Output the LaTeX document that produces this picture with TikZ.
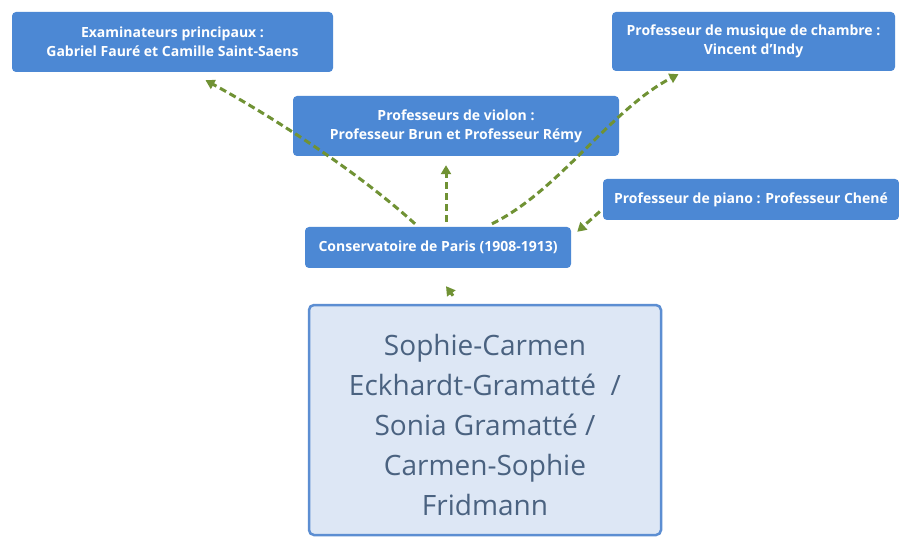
\documentclass[tikz,border=0pt]{standalone}
\usepackage{fontspec}
\setmainfont{Open Sans}
\usetikzlibrary{arrows.meta}
\definecolor{boxblue}{RGB}{76,136,212}
\definecolor{lightfill}{RGB}{221,231,245}
\definecolor{lightborder}{RGB}{92,142,210}
\definecolor{nametext}{RGB}{74,98,128}
\definecolor{conngreen}{RGB}{112,146,52}
\tikzset{
  bluebox/.style={draw=none, fill=boxblue, rounded corners=4pt, text=white,
    font=\fontsize{14}{19}\selectfont\bfseries, align=center, inner sep=0pt},
  namebox/.style={draw=lightborder, line width=2.5pt, fill=lightfill, rounded corners=5pt,
    inner sep=0pt},
  nametxt/.style={text=nametext, font=\fontsize{28}{40}\selectfont, align=center, inner sep=0pt},
  conn/.style={draw=conngreen, line width=3pt, dash pattern=on 7pt off 4pt,
    -{Triangle[length=9pt,width=10pt]}}
}
\begin{document}
\begin{tikzpicture}[x=1pt,y=-1pt]
\useasboundingbox (0,0) rectangle (899,537);
\fill[white] (0,0) rectangle (899,537);
\node[bluebox, minimum width=321pt, minimum height=60pt] (exam) at (172.5,42)
  {Examinateurs principaux :\\Gabriel Fauré et Camille Saint-Saens};
\node[bluebox, minimum width=283pt, minimum height=59pt] (musique) at (753.5,41.5)
  {Professeur de musique de chambre :\\Vincent d'Indy};
\node[namebox, minimum width=352pt, minimum height=230pt] (sophie) at (485,420) {};
\node[nametxt] (sophielabel) at (485,425)
  {Sophie-Carmen\\Eckhardt-Gramatté~~/\\Sonia Gramatté /\\Carmen-Sophie\\Fridmann};
\node[bluebox, minimum width=326pt, minimum height=60pt] (violon) at (456,126)
  {Professeurs de violon :\\Professeur Brun et Professeur Rémy};
\node[bluebox, minimum width=296pt, minimum height=41pt] (piano) at (751,199.5)
  {Professeur de piano : Professeur Chené};
\node[bluebox, minimum width=266pt, minimum height=41pt] (cons) at (438,247.5)
  {Conservatoire de Paris (1908-1913)};
\draw[conn] ([xshift=-23pt,yshift=3pt]cons.north)
  .. controls (350,165) and (260,110) .. ([xshift=33pt,yshift=-8pt]exam.south);
\draw[conn] ([xshift=54pt,yshift=3pt]cons.north)
  .. controls (560,190) and (610,110) .. ([xshift=-75pt,yshift=-3pt]musique.south);
\draw[conn] ([xshift=8pt,yshift=5pt]cons.north) -- ([xshift=-10pt,yshift=-9pt]violon.south);
\draw[conn] ([xshift=-3pt,yshift=-12pt]piano.west) -- ([xshift=6pt,yshift=-5pt]cons.north east);
\draw[conn] ([xshift=-32pt,yshift=8pt]sophie.north) -- ([xshift=8pt,yshift=-18pt]cons.south);
\end{tikzpicture}
\end{document}
